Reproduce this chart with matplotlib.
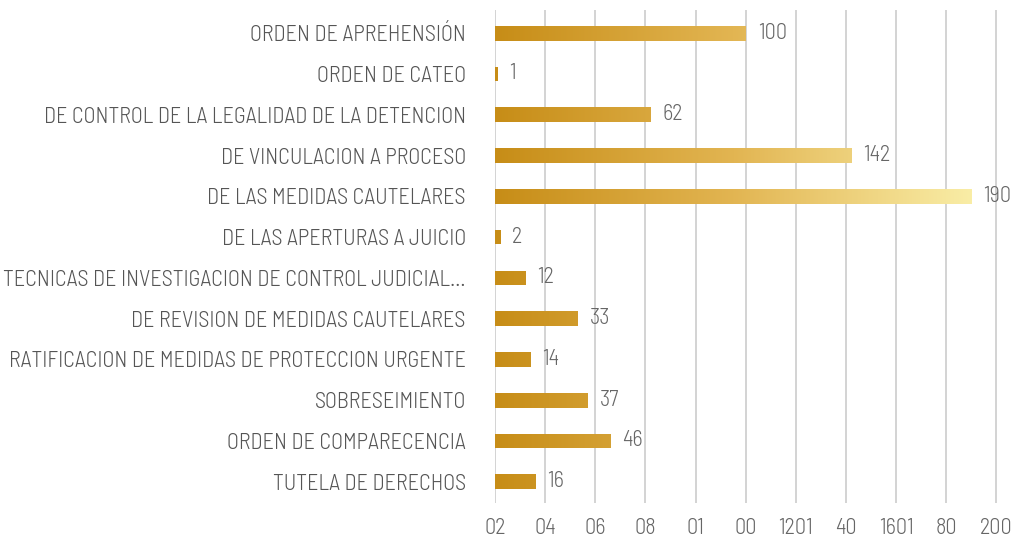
import numpy as np
import matplotlib.pyplot as plt
from matplotlib.colors import LinearSegmentedColormap

categorias = ["ORDEN DE APREHENSIÓN", "ORDEN DE CATEO",
              "DE CONTROL DE LA LEGALIDAD DE LA DETENCION",
              "DE VINCULACION A PROCESO", "DE LAS MEDIDAS CAUTELARES",
              "DE LAS APERTURAS A JUICIO",
              "TECNICAS DE INVESTIGACION DE CONTROL JUDICIAL...",
              "DE REVISION DE MEDIDAS CAUTELARES",
              "RATIFICACION DE MEDIDAS DE PROTECCION URGENTE",
              "SOBRESEIMIENTO", "ORDEN DE COMPARECENCIA", "TUTELA DE DERECHOS"]
valores = [100, 1, 62, 142, 190, 2, 12, 33, 14, 37, 46, 16]
ticks_x = [0, 20, 40, 60, 80, 100, 120, 140, 160, 180, 200]
etiquetas_x = ["02", "04", "06", "08", "01", "00", "1201", "40", "1601", "80", "200"]

plt.rcParams["font.family"] = ["Barlow Semi Condensed", "DejaVu Sans"]
plt.rcParams["font.weight"] = 300

fig = plt.figure(figsize=(10.21, 5.43), dpi=100)
ax = fig.add_axes([0.4848, 0.0737, 0.4936, 0.908])

# degradado dorado comun a todas las barras
cmap = LinearSegmentedColormap.from_list("oro", ["#C78D17", "#E2B552", "#F9EDA6"])
grad = np.linspace(0, 1, 256).reshape(1, -1)
alto = 0.36
y = np.arange(len(categorias))
for i, v in enumerate(valores):
    barra = ax.barh(i, v, height=alto, color="none", edgecolor="none", zorder=3)[0]
    im = ax.imshow(grad, cmap=cmap, extent=[0, 190, i - alto / 2, i + alto / 2],
                   aspect="auto", zorder=3)
    im.set_clip_path(barra)
    ax.text(v + 4.8, i, str(v), va="center", ha="left", fontsize=16, color="#666666")

ax.set_xlim(0, 201)
ax.set_ylim(11.52, -0.57)
ax.set_yticks(y)
ax.set_yticklabels(categorias, fontsize=16, color="#555555")
ax.set_xticks(ticks_x)
ax.set_xticklabels(etiquetas_x, fontsize=16, color="#666666")
ax.tick_params(axis="y", length=0, pad=21)
ax.tick_params(axis="x", length=0, pad=11)
ax.grid(axis="x", color="#CCCCCC", linewidth=1.2, zorder=0)
ax.set_axisbelow(True)
for s in ax.spines.values():
    s.set_visible(False)

fig.savefig("out.png", dpi=100, facecolor="white")
